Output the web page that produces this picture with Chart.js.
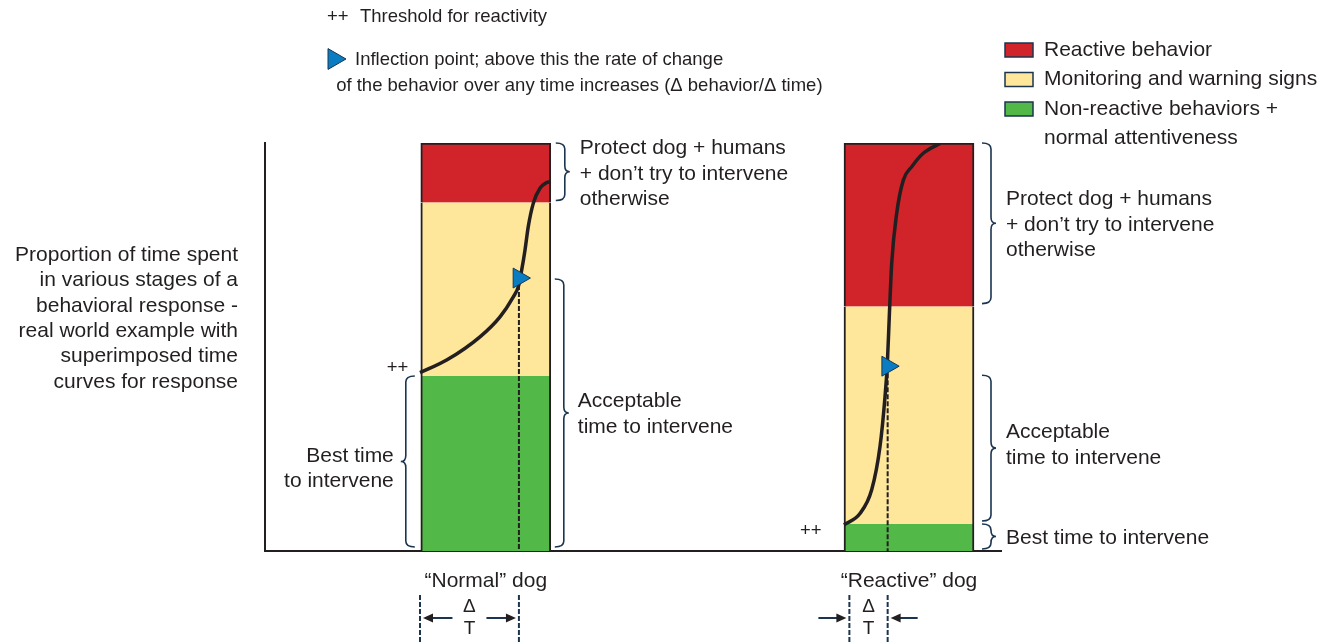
<!DOCTYPE html>
<html>
<head>
<meta charset="utf-8">
<script src="https://cdn.jsdelivr.net/npm/chart.js@4.4.1/dist/chart.umd.min.js"></script>
<style>
  html, body { margin: 0; padding: 0; background: #fff; }
  #wrap { width: 1332px; height: 643px; }
</style>
</head>
<body>
<div id="wrap"><canvas id="chart"></canvas></div>
<script>
// Two dogs, stacked proportion of time in each behavioural stage (0-100)
const DOGS = ['“Normal” dog', '“Reactive” dog'];
const DOG_X = [30, 87.5]; // position along the (unitless) time axis, 0-100
const STAGE_LABELS = ['Non-reactive behaviors +|normal attentiveness', 'Monitoring and warning signs', 'Reactive behavior'];
const GREEN = [42.9, 6.6];
const YELLOW = [42.5, 53.3];
const RED = [14.6, 40.1];

// superimposed response curves
const NORMAL_CURVE_X = [21.06, 24.68, 29.21, 31.93, 33.74, 34.42, 34.88, 35.33, 35.77, 36.45, 37.36, 38.27, 38.72];
const NORMAL_CURVE_Y = [43.7, 46.8, 52.5, 57.4, 62.3, 64.8, 68.9, 73.8, 79.5, 85.2, 88.9, 90.3, 90.5];
const REACTIVE_CURVE_X = [78.67, 80.84, 82.43, 83.56, 84.24, 84.55, 84.82, 85.15, 85.83, 86.73, 87.87, 89.44, 91.71];
const REACTIVE_CURVE_Y = [6.4, 9.2, 15.0, 25.6, 37.8, 45.6, 57.4, 70.5, 82.8, 90.9, 94.2, 97.5, 99.9];

// inflection points (triangles) and start of the delta-T window
const INFLECTION_X = [34.5, 84.6];
const INFLECTION_Y = [66.9, 45.3];
const THRESHOLD_X = [21.06, 79.4];

const C_RED = '#d1232a';
const C_YELLOW = '#fee69b';
const C_GREEN = '#52b848';
const C_BLUE = '#0a7dc2';
const INK = '#231f20';
const FAMILY = '"Liberation Sans", Arial, sans-serif';
const FONT = '21px ' + FAMILY;
const KEY_FONT = '18.5px ' + FAMILY;

const toPts = (xs, ys) => xs.map((x, i) => ({ x, y: ys[i] }));

function barSet(label, values, color, border) {
  return {
    type: 'bar',
    label,
    data: DOG_X.map((x, i) => ({ x, y: values[i] })),
    backgroundColor: color,
    borderColor: INK,
    borderWidth: border,
    borderSkipped: false,
    barThickness: 130,
    order: 3,
  };
}

function curveSet(pts) {
  return {
    type: 'line',
    data: pts,
    yAxisID: 'y2',
    borderColor: INK,
    borderWidth: 3.5,
    pointRadius: 0,
    cubicInterpolationMode: 'monotone',
    order: 1,
  };
}

function dropSet(i) {
  return {
    type: 'line',
    data: [{ x: INFLECTION_X[i], y: INFLECTION_Y[i] }, { x: INFLECTION_X[i], y: 0 }],
    yAxisID: 'y2',
    borderColor: INK,
    borderWidth: 2,
    borderDash: [5, 2],
    pointRadius: 0,
    order: 2,
  };
}

function brace(ctx, x, y1, y2, dir) {
  // dir = 1 draws "}", dir = -1 draws "{"
  const m = (y1 + y2) / 2, r = 6, w = 9;
  ctx.beginPath();
  ctx.moveTo(x - dir * w, y1);
  ctx.quadraticCurveTo(x, y1, x, y1 + r);
  ctx.lineTo(x, m - r);
  ctx.quadraticCurveTo(x, m, x + dir * 5, m);
  ctx.quadraticCurveTo(x, m, x, m + r);
  ctx.lineTo(x, y2 - r);
  ctx.quadraticCurveTo(x, y2, x - dir * w, y2);
  ctx.stroke();
}

function arrow(ctx, x1, y, x2) {
  const d = Math.sign(x2 - x1);
  ctx.beginPath();
  ctx.moveTo(x1, y);
  ctx.lineTo(x2 - d * 8, y);
  ctx.stroke();
  ctx.beginPath();
  ctx.moveTo(x2, y);
  ctx.lineTo(x2 - d * 10, y - 4.5);
  ctx.lineTo(x2 - d * 10, y + 4.5);
  ctx.closePath();
  ctx.fill();
}

function triangle(ctx, cx, cy, r) {
  ctx.beginPath();
  ctx.moveTo(cx + r, cy);
  ctx.lineTo(cx - r / 2, cy - r * 0.866);
  ctx.lineTo(cx - r / 2, cy + r * 0.866);
  ctx.closePath();
  ctx.fillStyle = C_BLUE;
  ctx.fill();
  ctx.strokeStyle = '#1b3550';
  ctx.lineWidth = 1;
  ctx.stroke();
}

const notes = {
  id: 'notes',
  afterDraw(chart) {
    const { ctx } = chart;
    const x = chart.scales.x, y = chart.scales.y;
    const text = (s, px, py, align = 'left') => {
      ctx.textAlign = align;
      ctx.fillText(s, px, py);
    };
    ctx.save();
    ctx.fillStyle = INK;
    ctx.strokeStyle = INK;
    ctx.textBaseline = 'middle';

    // key at the top
    ctx.font = KEY_FONT;
    text('++', 327, 17);
    text('Threshold for reactivity', 360, 17);
    triangle(ctx, 334, 59, 12);
    ctx.fillStyle = INK;
    text('Inflection point; above this the rate of change', 355, 60);
    text(' of the behavior over any time increases (\u0394 behavior/\u0394 time)', 331, 86);

    // colour legend
    ctx.font = FONT;
    const legend = [[C_RED, STAGE_LABELS[2]], [C_YELLOW, STAGE_LABELS[1]], [C_GREEN, STAGE_LABELS[0]]];
    legend.forEach(([col, lab], i) => {
      const cy = 50 + i * 29.5;
      ctx.fillStyle = col;
      ctx.fillRect(1005, cy - 7, 28, 14);
      ctx.lineWidth = 1.5;
      ctx.strokeRect(1005, cy - 7, 28, 14);
      ctx.fillStyle = INK;
      lab.split('|').forEach((ln, k) => text(ln, 1044, cy + k * 29));
    });

    // y axis description
    ['Proportion of time spent', 'in various stages of a', 'behavioral response -',
     'real world example with', 'superimposed time', 'curves for response']
      .forEach((ln, k) => text(ln, 238, 255 + k * 25.4, 'right'));

    ctx.lineWidth = 1.6;
    const half = 65;
    const y0 = y.getPixelForValue(0);
    const yTop = y.getPixelForValue(100);

    // normal dog
    const nR = x.getPixelForValue(DOG_X[0]) + half;
    const nL = x.getPixelForValue(DOG_X[0]) - half;
    const nG = y.getPixelForValue(GREEN[0]);
    const nY = y.getPixelForValue(GREEN[0] + YELLOW[0]);
    const nI = y.getPixelForValue(INFLECTION_Y[0]);
    brace(ctx, nR + 14, yTop, nY - 2, 1);
    brace(ctx, nR + 13, nI + 1, y0 - 4, 1);
    brace(ctx, nL - 15, nG, y0 - 4, -1);
    text('Protect dog + humans', nR + 29, 148);
    text('+ don\u2019t try to intervene', nR + 29, 174);
    text('otherwise', nR + 29, 199);
    text('Acceptable', nR + 27, 401);
    text('time to intervene', nR + 27, 427);
    text('Best time', nL - 27, 456, 'right');
    text('to intervene', nL - 27, 481, 'right');

    // reactive dog
    const rR = x.getPixelForValue(DOG_X[1]) + half;
    const rL = x.getPixelForValue(DOG_X[1]) - half;
    const rG = y.getPixelForValue(GREEN[1]);
    const rY = y.getPixelForValue(GREEN[1] + YELLOW[1]);
    const rI = y.getPixelForValue(INFLECTION_Y[1]);
    brace(ctx, rR + 17, yTop, rY - 3, 1);
    brace(ctx, rR + 17, rI + 9, rG - 3, 1);
    brace(ctx, rR + 17, rG, y0 - 2, 1);
    text('Protect dog + humans', rR + 32, 199);
    text('+ don\u2019t try to intervene', rR + 32, 225);
    text('otherwise', rR + 32, 250);
    text('Acceptable', rR + 32, 432);
    text('time to intervene', rR + 32, 458);
    text('Best time to intervene', rR + 32, 538);

    ctx.font = KEY_FONT;
    text('++', nL - 34, 368);
    text('++', rL - 44, 531);

    // delta T windows under the axis
    ctx.lineWidth = 2;
    ctx.setLineDash([5, 2]);
    const xs = [0, 1].map(i => [x.getPixelForValue(THRESHOLD_X[i]), x.getPixelForValue(INFLECTION_X[i])]);
    xs.forEach(([a, b]) => {
      [a, b].forEach(px => {
        ctx.beginPath();
        ctx.moveTo(px, 595);
        ctx.lineTo(px, 643);
        ctx.stroke();
      });
    });
    ctx.setLineDash([]);
    ctx.lineWidth = 2;
    const [[na, nb], [ra, rb]] = xs;
    const nm = (na + nb) / 2, rm = (ra + rb) / 2;
    arrow(ctx, nm - 17, 618, na + 3);
    arrow(ctx, nm + 17, 618, nb - 3);
    arrow(ctx, ra - 31, 618, ra - 3);
    arrow(ctx, rb + 30, 618, rb + 3);
    ctx.font = '19px ' + FAMILY;
    text('\u0394', nm, 607, 'center');
    text('T', nm, 629, 'center');
    text('\u0394', rm, 607, 'center');
    text('T', rm, 629, 'center');
    ctx.restore();
  },
};

new Chart(document.getElementById('chart'), {
  data: {
    datasets: [
      {
        type: 'scatter',
        data: toPts(INFLECTION_X, INFLECTION_Y),
        yAxisID: 'y2',
        pointStyle: 'triangle',
        rotation: 90,
        pointRadius: 11.5,
        backgroundColor: C_BLUE,
        borderColor: '#1b3550',
        borderWidth: 1,
        order: 0,
      },
      curveSet(toPts(NORMAL_CURVE_X, NORMAL_CURVE_Y)),
      curveSet(toPts(REACTIVE_CURVE_X, REACTIVE_CURVE_Y)),
      dropSet(0),
      dropSet(1),
      barSet('Non-reactive behaviors + normal attentiveness', GREEN, C_GREEN, { left: 2, right: 2, top: 0, bottom: 0 }),
      barSet('Monitoring and warning signs', YELLOW, C_YELLOW, { left: 2, right: 2, top: 0, bottom: 0 }),
      barSet('Reactive behavior', RED, C_RED, { left: 2, right: 2, top: 2, bottom: 0 }),
    ],
  },
  options: {
    responsive: true,
    maintainAspectRatio: false,
    animation: false,
    layout: { padding: { left: 265, right: 331, top: 143, bottom: 0 } },
    plugins: { legend: { display: false }, tooltip: { enabled: false } },
    scales: {
      x: {
        type: 'linear',
        min: 0,
        max: 100,
        offset: false,
        stacked: true,
        grid: { display: false, drawTicks: false, offset: false },
        border: { display: true, color: INK, width: 2 },
        afterBuildTicks: (axis) => { axis.ticks = DOG_X.map(v => ({ value: v })); },
        afterFit: (axis) => { axis.height = 92; },
        ticks: {
          autoSkip: false,
          maxRotation: 0,
          padding: 18,
          color: INK,
          font: { family: FAMILY, size: 21 },
          callback: (v, i) => DOGS[i],
        },
      },
      y: {
        min: 0,
        max: 100,
        stacked: true,
        grid: { display: false, drawTicks: false },
        border: { display: true, color: INK, width: 2 },
        ticks: { display: false },
        afterFit: (axis) => { axis.width = 0; },
      },
      y2: { min: 0, max: 100, display: false },
    },
  },
  plugins: [notes],
});
</script>
</body>
</html>
